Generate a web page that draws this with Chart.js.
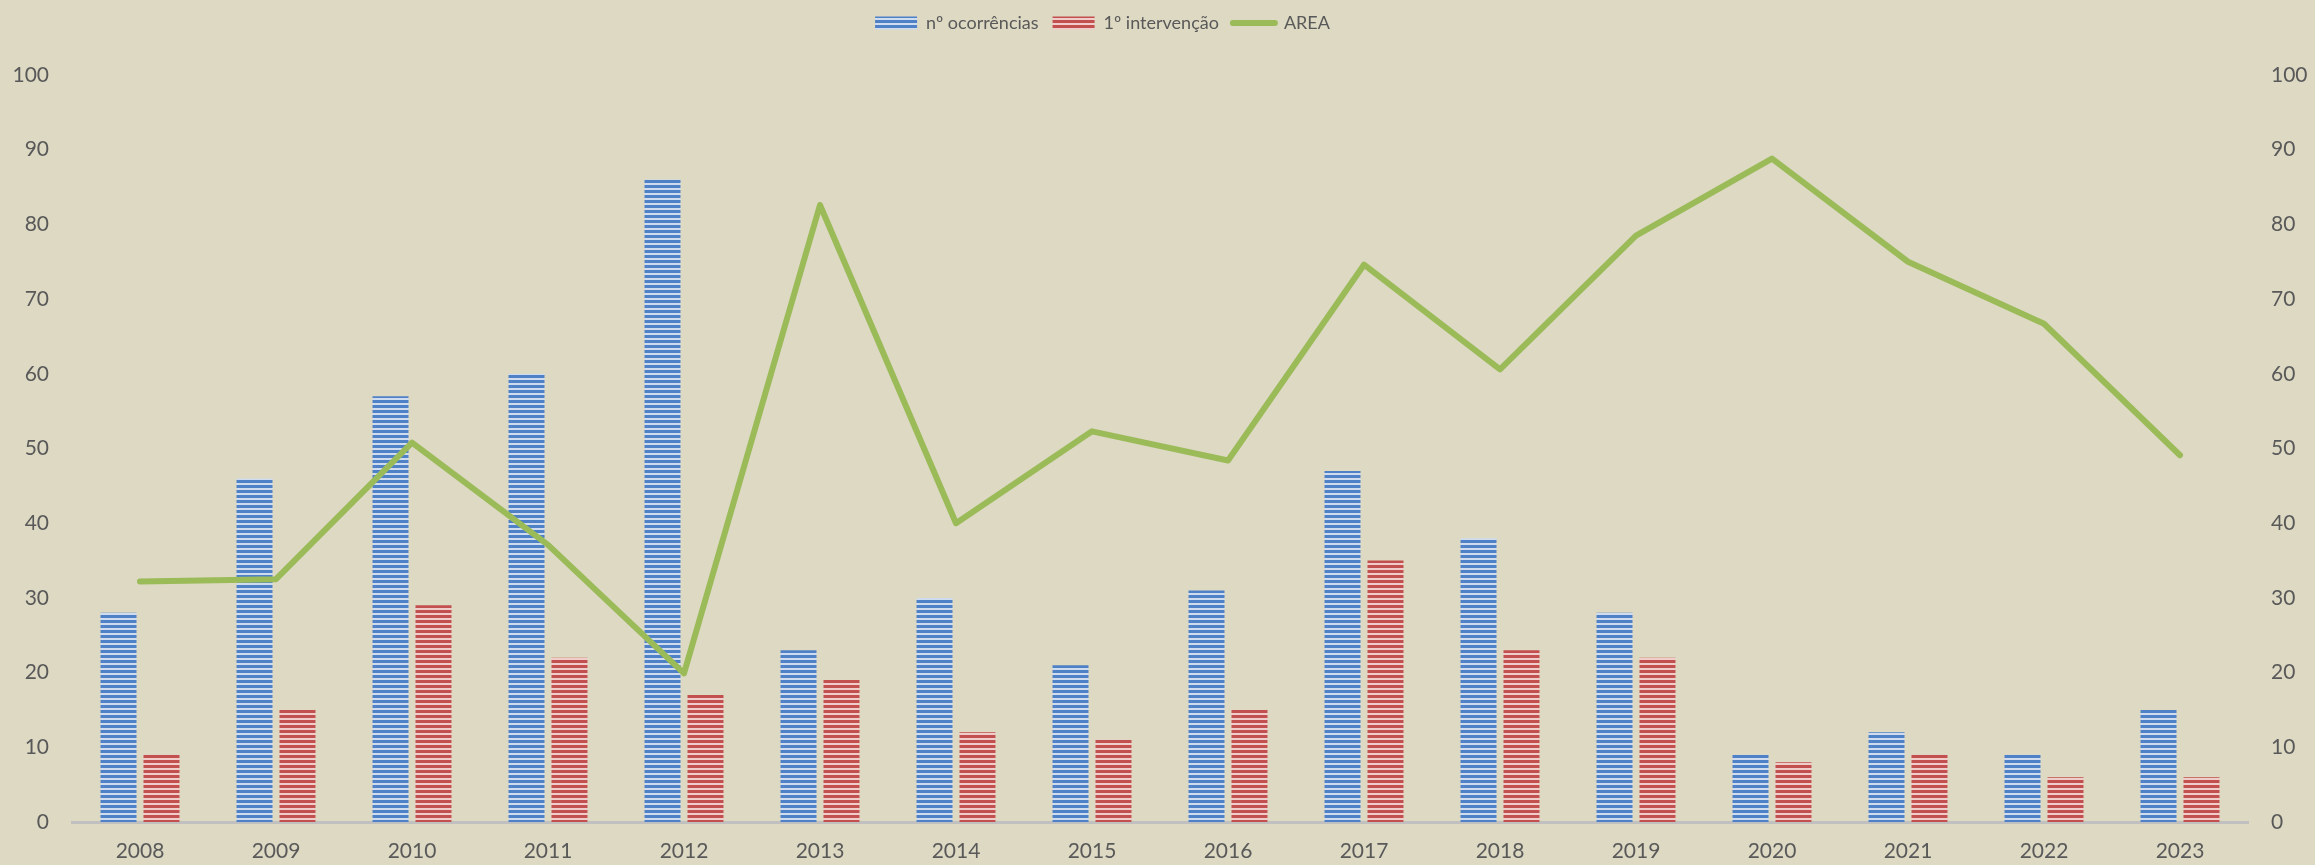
<!DOCTYPE html>
<html><head><meta charset="utf-8">
<script src="https://cdn.jsdelivr.net/npm/chart.js@4/dist/chart.umd.min.js"></script>
<style>html,body{margin:0;padding:0;background:#ddd9c3;overflow:hidden}#wrap{width:2315px;height:865px}</style>
</head><body><div id="wrap"><canvas id="c" width="2315" height="865"></canvas></div>
<script>
const years = ['2008','2009','2010','2011','2012','2013','2014','2015','2016','2017','2018','2019','2020','2021','2022','2023'];
const ocorrencias = [28,46,57,60,86,23,30,21,31,47,38,28,9,12,9,15];
const intervencao = [9,15,29,22,17,19,12,11,15,35,23,22,8,9,6,6];
const area = [32.2,32.5,50.8,37.1,19.9,82.6,40.0,52.3,48.4,74.6,60.6,78.5,88.8,75.0,66.7,49.1];
const yMin = 0, yMax = 100, yStep = 10;

function stripes(dark, light){
  const c=document.createElement('canvas'); c.width=4; c.height=5;
  const x=c.getContext('2d');
  x.fillStyle=light; x.fillRect(0,0,4,5);
  x.fillStyle=dark; x.fillRect(0,0,4,3);
  return x.createPattern(c,'repeat');
}
const cx = document.getElementById('c').getContext('2d');
const bluePat = stripes('#4f81c6','#cfdcef');
const redPat = stripes('#c2504e','#f0cdcb');
const FONT = 'Lato';
const TXT = '#595959';

const helper = {
  id:'helper',
  beforeUpdate(chart){
    const lg = chart.legend;
    if (lg && !lg._patched){
      const orig = lg.fit.bind(lg);
      lg.fit = function(){ orig(); this.height = 75; };
      lg._patched = true;
    }
  },
  afterLayout(chart){
    const lg = chart.legend;
    if (lg){ lg.left = 0; lg.right = 2205; lg.top = 0; }
  },
  beforeDraw(chart){
    const c = chart.ctx;
    c.save(); c.fillStyle = '#ddd9c3'; c.fillRect(0,0,chart.width,chart.height); c.restore();
  }
};

new Chart(cx, {
  data: {
    labels: years,
    datasets: [
      {type:'bar', label:'nº ocorrências', data:ocorrencias, backgroundColor:bluePat, borderWidth:0,
       categoryPercentage:0.632, barPercentage:0.837, yAxisID:'y', order:1},
      {type:'bar', label:'1º intervenção', data:intervencao, backgroundColor:redPat, borderWidth:0,
       categoryPercentage:0.632, barPercentage:0.837, yAxisID:'y', order:1},
      {type:'line', label:'AREA', data:area, borderColor:'#9bbb59', backgroundColor:'#9bbb59', borderWidth:6,
       pointRadius:0, pointHoverRadius:0, tension:0, borderCapStyle:'round', borderJoinStyle:'round', yAxisID:'y1', order:0}
    ]
  },
  options: {
    responsive:false, animation:false, devicePixelRatio:1,
    layout:{padding:0},
    plugins:{
      tooltip:{enabled:false},
      legend:{
        display:true, position:'top',
        labels:{
          font:{family:FONT, size:18}, color:TXT, padding:14,
          usePointStyle:true, pointStyleWidth:42, boxWidth:42, boxHeight:13,
          sort:(a,b)=>a.datasetIndex-b.datasetIndex,
          generateLabels(chart){
            return chart.data.datasets.map((ds,i)=>({
              text: ds.label,
              fillStyle: ds.type==='line' ? '#9bbb59' : ds.backgroundColor,
              strokeStyle: ds.type==='line' ? '#9bbb59' : 'rgba(0,0,0,0)',
              lineWidth: ds.type==='line' ? 6 : 0,
              lineCap:'round',
              pointStyle: ds.type==='line' ? 'line' : 'rect',
              fontColor: TXT, hidden:false, datasetIndex:i
            }));
          }
        }
      }
    },
    scales:{
      x:{
        grid:{display:false, drawTicks:false},
        border:{display:true, color:'#c0c0c0', width:3},
        ticks:{font:{family:FONT, size:21}, color:TXT, padding:17, maxRotation:0},
        afterFit(s){ s.height = 43; }
      },
      y:{
        position:'left', min:yMin, max:yMax,
        grid:{display:false, drawTicks:false}, border:{display:false},
        ticks:{stepSize:yStep, font:{family:FONT, size:21}, color:TXT, padding:23},
        afterFit(s){ s.width = 72; }
      },
      y1:{
        position:'right', min:yMin, max:yMax,
        grid:{display:false, drawTicks:false}, border:{display:false},
        ticks:{stepSize:yStep, font:{family:FONT, size:21}, color:TXT, padding:23},
        afterFit(s){ s.width = 67; }
      }
    }
  },
  plugins:[helper]
});
</script></body></html>
